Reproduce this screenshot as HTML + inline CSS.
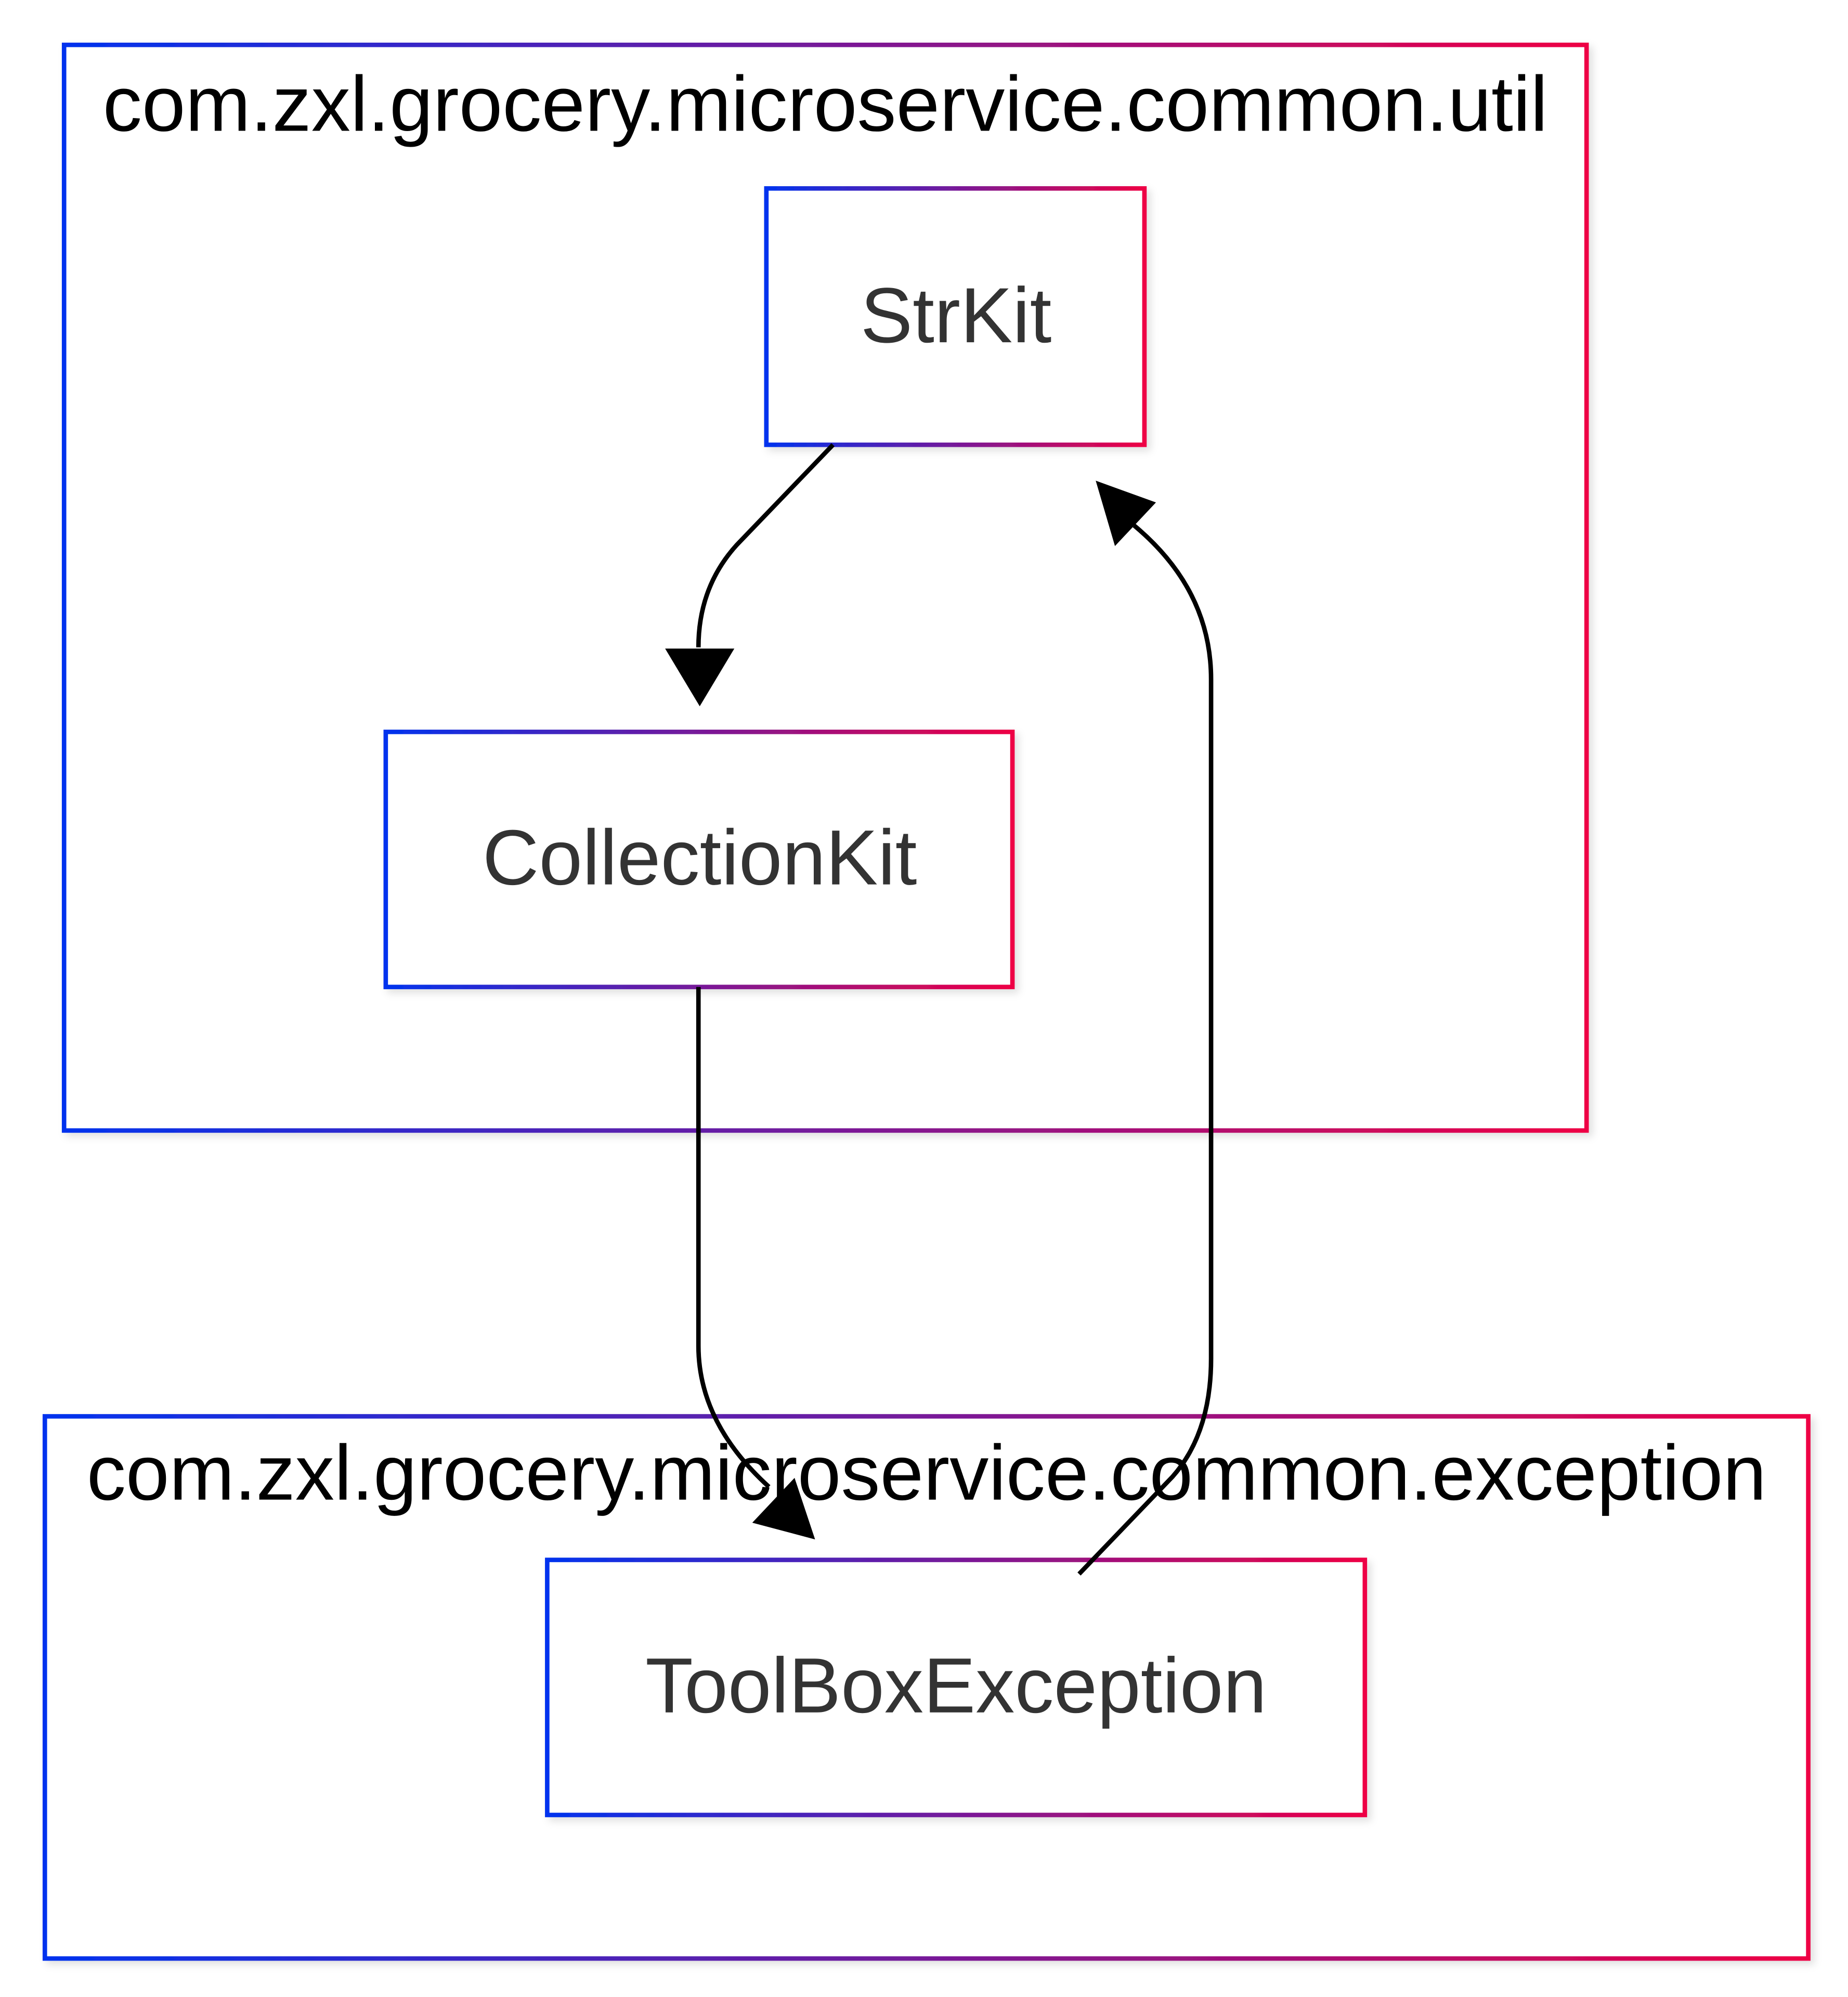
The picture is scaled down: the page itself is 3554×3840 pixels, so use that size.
<!DOCTYPE html>
<html><head><meta charset="utf-8"><style>html,body{margin:0;padding:0;background:#fff}svg{display:block}</style></head>
<body>
<svg width="3554" height="3840" viewBox="0 0 1442 1558" xmlns="http://www.w3.org/2000/svg">
<defs>
<linearGradient id="g" x1="0" y1="0" x2="1" y2="0"><stop offset="0" stop-color="#0033ee"/><stop offset="1" stop-color="#ee0044"/></linearGradient>
<filter id="s" x="-5%" y="-5%" width="115%" height="115%"><feDropShadow dx="3" dy="3" stdDeviation="3" flood-color="#000" flood-opacity="0.12"/></filter>
</defs>
<g font-family="Liberation Sans, Arial, sans-serif">
<rect x="50" y="35" width="1188" height="847" fill="#fff" stroke="url(#g)" stroke-width="3.5" filter="url(#s)"/>
<text x="644" y="102" font-size="61" text-anchor="middle" fill="#000">com.zxl.grocery.microservice.common.util</text>
<rect x="35" y="1105" width="1376" height="423" fill="#fff" stroke="url(#g)" stroke-width="3.5" filter="url(#s)"/>
<rect x="598" y="147" width="295" height="200" fill="#fff" stroke="url(#g)" stroke-width="3.5" filter="url(#s)"/>
<text x="746" y="267" font-size="61" text-anchor="middle" fill="#333">StrKit</text>
<rect x="301" y="571" width="489" height="199" fill="#fff" stroke="url(#g)" stroke-width="3.5" filter="url(#s)"/>
<text x="546" y="690" font-size="61" text-anchor="middle" fill="#333">CollectionKit</text>
<rect x="427" y="1217" width="638" height="199" fill="#fff" stroke="url(#g)" stroke-width="3.5" filter="url(#s)"/>
<text x="746" y="1336" font-size="61" text-anchor="middle" fill="#333">ToolBoxException</text>
<g fill="none" stroke="#000" stroke-width="3.5">
<path d="M650 347 L575 425 Q545 458 545 505"/>
<path d="M545 770 L545 1050 Q545 1110 600 1160"/>
<path d="M842 1228 L915 1152 Q945 1118 945 1060 L945 530 Q945 460 885 410"/>
</g>
<polygon points="519,506 573,506 546,551" fill="#000"/>
<polygon points="587,1188 620,1153 636,1201" fill="#000"/>
<polygon points="855,375 902,392 870,426" fill="#000"/>
<text x="723" y="1170" font-size="61" text-anchor="middle" fill="#000">com.zxl.grocery.microservice.common.exception</text>
</g>
</svg>
</body></html>
